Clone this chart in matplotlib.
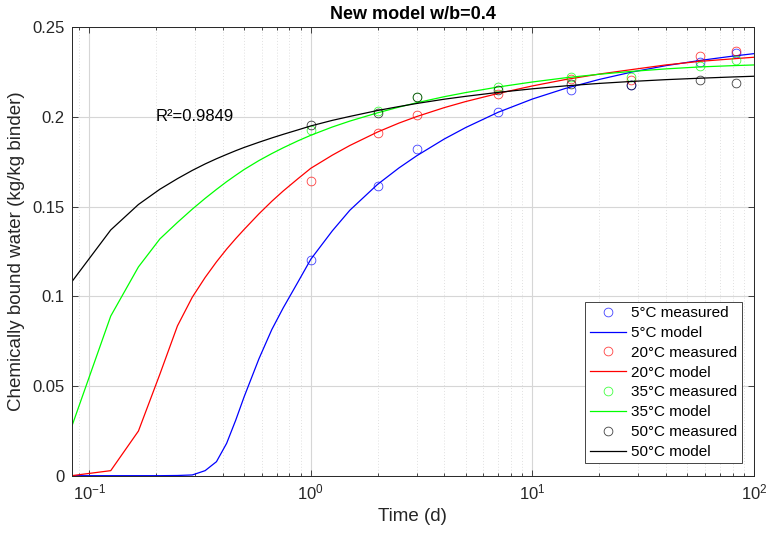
import matplotlib
matplotlib.use("Agg")
import matplotlib.pyplot as plt
from matplotlib.ticker import LogLocator, NullFormatter, FixedLocator

plt.rcParams['font.family'] = ['Liberation Sans', 'DejaVu Sans']
plt.rcParams['mathtext.fontset'] = 'custom'
plt.rcParams['mathtext.rm'] = 'Liberation Sans'
plt.rcParams['mathtext.it'] = 'Liberation Sans:italic'
plt.rcParams['mathtext.bf'] = 'Liberation Sans:bold'

# Measured ages (days) and bound water (kg/kg binder)
t_meas = [1, 2, 3, 7, 15, 28, 57, 83]
meas_5 = [0.1205, 0.1615, 0.1824, 0.2028, 0.2152, 0.2180, 0.2306, 0.2356]
meas_20 = [0.1643, 0.1913, 0.2009, 0.2130, 0.2214, 0.2204, 0.2340, 0.2367]
meas_35 = [0.1926, 0.2031, 0.2109, 0.2167, 0.2222, 0.2222, 0.2284, 0.2319]
meas_50 = [0.1953, 0.2022, 0.2109, 0.2152, 0.2186, 0.2180, 0.2204, 0.2189]

# Model output (days)
t_model = [0.0833, 0.125, 0.1667, 0.2083, 0.25, 0.2917, 0.3333, 0.375, 0.4167,
           0.4583, 0.5, 0.5833, 0.6667, 0.75, 0.875, 1.0, 1.25, 1.5, 2, 2.5, 3,
           4, 5, 7, 10, 14, 20, 28, 40, 57, 80, 100]
model_5 = [0.0, 0.0, 0.0, 0.0, 0.0001, 0.0004, 0.0028, 0.0078, 0.018,
           0.031, 0.044, 0.0652, 0.0815, 0.0935, 0.1080, 0.1207, 0.1365, 0.1480,
           0.1624, 0.1716, 0.1783, 0.1877, 0.1941, 0.2026, 0.2100, 0.2158, 0.2209,
           0.2250, 0.2286, 0.2315, 0.2339, 0.2353]
model_20 = [0.0, 0.0028, 0.0249, 0.0566, 0.0835, 0.0995, 0.1105, 0.1192, 0.1263,
            0.1322, 0.1373, 0.1460, 0.1530, 0.1587, 0.1656, 0.1714, 0.1787, 0.1841,
            0.1916, 0.1966, 0.2002, 0.2052, 0.2086, 0.2131, 0.2173, 0.2208, 0.2239,
            0.2264, 0.2290, 0.2310, 0.2324, 0.2333]
model_35 = [0.0273, 0.089, 0.1164, 0.132, 0.1412, 0.1486, 0.1546, 0.1596, 0.1639,
            0.1675, 0.1707, 0.1757, 0.1796, 0.1828, 0.1867, 0.1898, 0.1944, 0.1977,
            0.2023, 0.2055, 0.2079, 0.2113, 0.2136, 0.2167, 0.2195, 0.2218, 0.2238,
            0.2254, 0.2268, 0.2279, 0.2286, 0.2290]
model_50 = [0.108, 0.137, 0.1512, 0.1597, 0.1656, 0.1702, 0.1738, 0.1767, 0.1791,
            0.1812, 0.1830, 0.1859, 0.1883, 0.1903, 0.1928, 0.1950, 0.1981, 0.2003,
            0.2036, 0.2058, 0.2075, 0.2099, 0.2115, 0.2137, 0.2157, 0.2173, 0.2187,
            0.2198, 0.2208, 0.2216, 0.2223, 0.2227]

labels = ['5°C', '20°C', '35°C', '50°C']
colors = ['#0000ff', '#ff0000', '#00ff00', '#000000']

fig = plt.figure(figsize=(7.7, 5.37), dpi=100)
ax = fig.add_axes([0.0931, 0.1142, 0.9792 - 0.0931, 0.9492 - 0.1142])

for lab, col, m, mod in zip(labels, colors,
                            [meas_5, meas_20, meas_35, meas_50],
                            [model_5, model_20, model_35, model_50]):
    ax.plot(t_meas, m, 'o', mfc='none', mec=col, mew=0.6, ms=6.3,
            alpha=0.75, label=f'{lab} measured')
    ax.plot(t_model, mod, '-', color=col, lw=0.9, label=f'{lab} model')

ax.set_xscale('log')
ax.set_xlim(0.0833, 100)
ax.set_ylim(0, 0.25)
ax.yaxis.set_major_locator(FixedLocator([0, 0.05, 0.1, 0.15, 0.2, 0.25]))
ax.set_yticklabels(['0', '0.05', '0.1', '0.15', '0.2', '0.25'])
ax.xaxis.set_major_locator(LogLocator(base=10, numticks=10))
ax.xaxis.set_minor_locator(LogLocator(base=10, subs=range(2, 10), numticks=20))
ax.xaxis.set_minor_formatter(NullFormatter())

ax.grid(True, which='major', color='#d6d6d6', lw=0.8, ls='-')
ax.grid(True, which='minor', axis='x', color='#e0e0e0', lw=0.7, ls=(0, (1, 2)))
ax.set_axisbelow(True)

ax.tick_params(which='both', direction='in', top=True, right=True,
               labelsize=12, colors='#262626', width=0.6)
ax.tick_params(which='major', length=4.5, pad=5)
ax.tick_params(which='minor', length=2.5)
for s in ax.spines.values():
    s.set_linewidth(0.7)
    s.set_color('#262626')

ax.set_xlabel('Time (d)', fontsize=13.5, color='#262626', labelpad=4)
ax.set_ylabel('Chemically bound water (kg/kg binder)', fontsize=13.5,
              color='#262626', labelpad=5)
ax.set_title('New model w/b=0.4', fontsize=13, fontweight='bold', pad=6)

ax.text(0.2, 0.2, 'R²=0.9849', fontsize=12, va='center', ha='left',
        color='#000000')

leg = ax.legend(loc='lower right', fontsize=11, frameon=True, fancybox=False,
                edgecolor='#262626', framealpha=1, handlelength=2.4,
                handletextpad=0.3, labelspacing=0.38, borderpad=0.3,
                borderaxespad=0.8)
leg.get_frame().set_linewidth(0.6)

fig.savefig('out.png', dpi=100)
